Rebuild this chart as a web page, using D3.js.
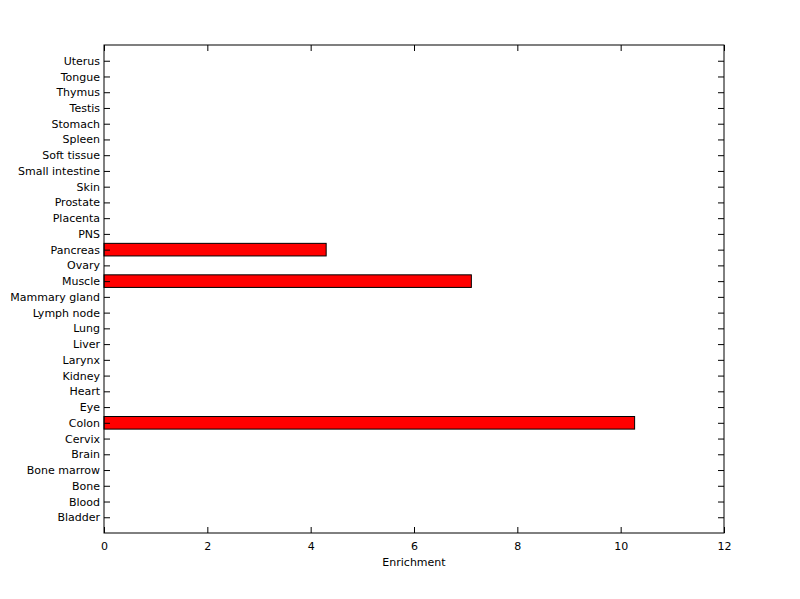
<!DOCTYPE html>
<html>
<head>
<meta charset="utf-8">
<script src="https://cdn.jsdelivr.net/npm/d3@7"></script>
<style>
body { margin: 0; background: #fff; }
svg text { font-family: "DejaVu Sans", Verdana, sans-serif; font-size: 11px; fill: #000; }
</style>
</head>
<body>
<div class="svg-container"></div>
<script>
var tissues = ["Bladder", "Blood", "Bone", "Bone marrow", "Brain", "Cervix", "Colon", "Eye", "Heart",
    "Kidney", "Larynx", "Liver", "Lung", "Lymph node", "Mammary gland", "Muscle", "Ovary", "Pancreas",
    "PNS", "Placenta", "Prostate", "Skin", "Small intestine", "Soft tissue", "Spleen", "Stomach",
    "Testis", "Thymus", "Tongue", "Uterus"];
var enrichment = [0, 0, 0, 0, 0, 0, 10.27, 0, 0,
    0, 0, 0, 0, 0, 0, 7.11, 0, 4.3,
    0, 0, 0, 0, 0, 0, 0, 0,
    0, 0, 0, 0];
var xTicks = [0, 2, 4, 6, 8, 10, 12];
var xLabel = "Enrichment";

var width = 800, height = 599;
var margin = { top: 45, right: 76, bottom: 66, left: 104 };
var chartWidth = width - margin.left - margin.right;
var chartHeight = height - margin.top - margin.bottom;

var svg = d3.select(".svg-container").append("svg")
    .attr("width", width)
    .attr("height", height);

var g = svg.append("g")
    .attr("transform", `translate(${margin.left}, ${margin.top})`);

var data = tissues.map((t, i) => ({ name: t, pos: i + 1, value: enrichment[i] }));

var xScale = d3.scaleLinear().domain([0, 12]).range([0, chartWidth]);
// matlab style: categories at 1..n, limits 0..n+1
var yScale = d3.scaleLinear().domain([0, tissues.length + 1]).range([chartHeight, 0]);
var barH = yScale(0) - yScale(0.8);

g.selectAll(".bar")
    .data(data.filter(d => d.value > 0))
    .enter().append("rect")
    .attr("class", "bar")
    .attr("x", xScale(0))
    .attr("y", d => yScale(d.pos) - barH / 2)
    .attr("width", d => xScale(d.value) - xScale(0))
    .attr("height", barH)
    .attr("fill", "#ff0000")
    .attr("stroke", "#000")
    .attr("stroke-width", 1);

var tickLen = 6;

// bottom axis, inward ticks
var xAxis = d3.axisBottom(xScale).tickValues(xTicks).tickSizeInner(-tickLen).tickSizeOuter(0).tickPadding(9);
var xAxisG = g.append("g").attr("transform", `translate(0, ${chartHeight})`).call(xAxis);

var xTop = d3.axisTop(xScale).tickValues(xTicks).tickSizeInner(-tickLen).tickSizeOuter(0).tickFormat("");
g.append("g").call(xTop);

var yAxis = d3.axisLeft(yScale).tickValues(data.map(d => d.pos))
    .tickFormat((d, i) => tissues[d - 1]).tickSizeInner(-tickLen).tickSizeOuter(0).tickPadding(4);
g.append("g").call(yAxis);

var yRight = d3.axisRight(yScale).tickValues(data.map(d => d.pos))
    .tickFormat("").tickSizeInner(-tickLen).tickSizeOuter(0);
g.append("g").attr("transform", `translate(${chartWidth}, 0)`).call(yRight);

g.selectAll(".domain").remove();
g.selectAll(".tick line").attr("stroke", "#000");
g.selectAll(".tick text").style("font-size", "11px").style("font-family", "'DejaVu Sans', Verdana, sans-serif").attr("fill", "#000");
xAxisG.selectAll(".tick text").attr("dy", "0.71em");

g.append("rect")
    .attr("x", 0).attr("y", 0)
    .attr("width", chartWidth).attr("height", chartHeight)
    .attr("fill", "none").attr("stroke", "#000").attr("stroke-width", 1);

g.append("text")
    .attr("x", chartWidth / 2)
    .attr("y", chartHeight + 33)
    .attr("text-anchor", "middle")
    .text(xLabel);
</script>
</body>
</html>
